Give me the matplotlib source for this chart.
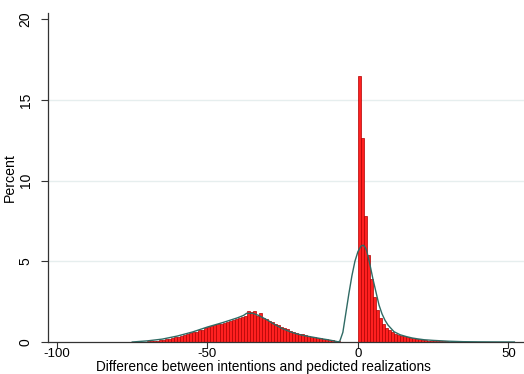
import numpy as np
import matplotlib.pyplot as plt

plt.rcParams['font.family'] = ['Liberation Sans', 'DejaVu Sans']

# histogram of the lower hump: unit-width bins starting at -74
hump_start = -74
hump_pct = [
    0.01, 0.015, 0.02, 0.03, 0.04, 0.05, 0.07, 0.09, 0.11, 0.14,
    0.17, 0.20, 0.24, 0.28, 0.32, 0.37, 0.42, 0.47, 0.53, 0.60,
    0.65, 0.72, 0.76, 0.86, 0.90, 0.97, 1.05, 1.12, 1.10, 1.20,
    1.22, 1.28, 1.38, 1.42, 1.48, 1.55, 1.62, 1.90, 1.88, 1.92,
    1.60, 1.78, 1.50, 1.42, 1.32, 1.25, 1.10, 1.05, 0.92, 0.85,
    0.78, 0.70, 0.65, 0.58, 0.52, 0.47, 0.42, 0.37, 0.33, 0.29,
    0.26, 0.22, 0.19, 0.16, 0.13, 0.10, 0.08, 0.05, 0.03, 0.02,
]

# histogram of the spike at zero: unit-width bins starting at 0
spike_start = 0
spike_pct = [
    16.5, 12.65, 7.8, 5.4, 3.9, 2.8, 2.0, 1.5, 1.1, 0.85,
    0.72, 0.60, 0.52, 0.45, 0.40, 0.35, 0.30, 0.26, 0.22, 0.19,
    0.16, 0.13, 0.11, 0.09, 0.08, 0.07, 0.06, 0.05, 0.04, 0.035,
    0.03, 0.025, 0.02, 0.02, 0.015, 0.01, 0.01, 0.01, 0.01, 0.01,
    0.01, 0.01, 0.01, 0.01, 0.01, 0.01, 0.01, 0.01, 0.01, 0.01,
    0.01, 0.01,
]

# density overlay
curve_x = [-75, -70, -65, -60, -55, -50, -45, -42, -40, -38, -37, -35, -33,
           -32, -30, -28, -25, -22, -20, -18, -15, -12, -10, -8, -6.5, -6,
           -5, -4, -3, -2, -1, 0, 1, 1.8, 2.5, 3, 4, 5, 6, 7, 8, 9, 10,
           12, 14, 16, 18, 20, 22, 25, 30, 35, 40, 45, 52]
curve_y = [0.0, 0.07, 0.18, 0.37, 0.62, 0.93, 1.2, 1.38, 1.5, 1.65, 1.78,
           1.78, 1.65, 1.55, 1.35, 1.12, 0.82, 0.6, 0.49, 0.4, 0.3, 0.2,
           0.14, 0.07, 0.01, 0.06, 0.6, 1.8, 3.0, 4.1, 5.0, 5.6, 5.95,
           6.0, 5.85, 5.6, 4.8, 3.9, 3.1, 2.3, 1.75, 1.35, 1.05, 0.64,
           0.45, 0.34, 0.25, 0.19, 0.14, 0.1, 0.05, 0.02, 0.01, 0.005, 0.0]

fig = plt.figure(figsize=(5.24, 3.74), dpi=100)
ax = fig.add_axes([48 / 524, 32 / 374, 476 / 524, 329 / 374])

for start, vals in ((hump_start, hump_pct), (spike_start, spike_pct)):
    left = start + np.arange(len(vals))
    ax.bar(left, vals, width=1.0, align='edge', color='#ff2020',
           edgecolor='#b00000', linewidth=0.5, zorder=2)

ax.plot(curve_x, curve_y, color='#2f6a64', linewidth=1.0, zorder=3)

ax.set_xlim(-103, 55.2)
ax.set_ylim(0, 20.4)
ax.set_xticks([-100, -50, 0, 50])
ax.set_xticklabels(['-100', '-50', '0', '50'])
ax.set_yticks([0, 5, 10, 15, 20])

for g in (5, 10, 15):
    ax.axhline(g, color='#e6eeee', linewidth=1.0, zorder=1)

for s in ('top', 'right'):
    ax.spines[s].set_visible(False)
for s in ('left', 'bottom'):
    ax.spines[s].set_color('#333333')
    ax.spines[s].set_linewidth(0.9)

ax.tick_params(axis='both', colors='#333333', length=5, width=0.8,
               labelsize=10, labelcolor='black')
ax.tick_params(axis='x', length=4, pad=0.5, labelsize=9.5)
ax.tick_params(axis='y', pad=6)
for lab in ax.get_yticklabels():
    lab.set_rotation(90)
    lab.set_va('center')

ax.set_ylabel('Percent', fontsize=10.2, labelpad=1)
ax.set_xlabel('Difference between intentions and pedicted realizations',
              fontsize=9.8, va='center')
ax.xaxis.set_label_coords((263 - 48) / 476, -(367.5 - 342) / 329)

fig.savefig('out.png', dpi=100)
